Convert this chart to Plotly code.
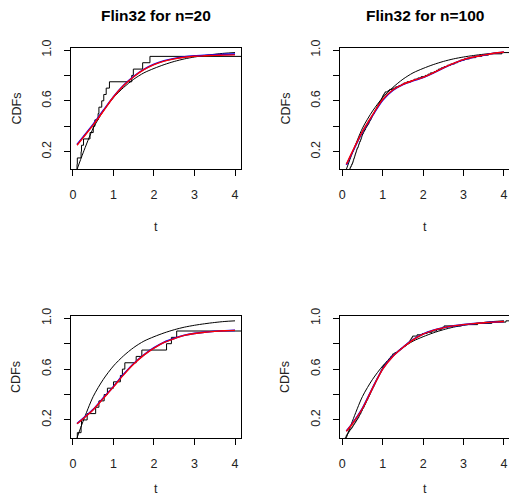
import plotly.graph_objects as go

# ---------------- data ----------------
t_grid = [0.1, 0.25, 0.5, 0.75, 1.0, 1.25, 1.5, 1.75, 2.0, 2.25, 2.5, 2.75, 3.0, 3.25, 3.5, 3.75, 4.0]

# true CDF (thin black smooth curve), same in every panel
true_cdf = [0.06, 0.19, 0.385, 0.52, 0.625, 0.705, 0.77, 0.82, 0.855, 0.885, 0.91, 0.93, 0.945, 0.957, 0.967, 0.975, 0.98]

# panel 1: n=20
ecdf1_times = [0.06, 0.10, 0.107, 0.20, 0.21, 0.26, 0.42, 0.50, 0.54, 0.62, 0.64, 0.71, 0.76, 0.82, 0.90,
               1.45, 1.49, 1.72, 1.90, 4.60]
red1 = [0.25, 0.31, 0.41, 0.52, 0.63, 0.72, 0.79, 0.845, 0.885, 0.912, 0.93, 0.943, 0.951, 0.955, 0.958, 0.96, 0.962]
blue1 = [0.255, 0.315, 0.415, 0.525, 0.633, 0.723, 0.793, 0.848, 0.888, 0.915, 0.933, 0.946, 0.954, 0.959, 0.963, 0.966, 0.968]

# panel 2: n=100
ecdf2_times = [0.03, 0.06, 0.09, 0.12, 0.15, 0.17, 0.19, 0.20, 0.22, 0.23,
               0.25, 0.26, 0.27, 0.28, 0.29, 0.30, 0.31, 0.32, 0.33, 0.34,
               0.35, 0.36, 0.37, 0.39, 0.40, 0.41, 0.42, 0.43, 0.45, 0.46,
               0.47, 0.48, 0.49, 0.50, 0.52, 0.53, 0.55, 0.57, 0.58, 0.60,
               0.62, 0.64, 0.66, 0.67, 0.69, 0.71, 0.72, 0.74, 0.75, 0.77,
               0.79, 0.80, 0.82, 0.84, 0.85, 0.87, 0.89, 0.90, 0.92, 0.94,
               0.96, 0.97, 0.99, 1.00, 1.02, 1.04, 1.06, 1.13, 1.17, 1.25,
               1.32, 1.40, 1.47, 1.52, 1.60, 1.70, 1.78, 1.87, 1.95, 2.05,
               2.12, 2.18, 2.27, 2.33, 2.38, 2.45, 2.52, 2.60, 2.68, 2.78,
               2.85, 2.92, 3.02, 3.15, 3.30, 3.45, 3.62, 3.95, 4.60, 5.30]
red2 = [0.10, 0.20, 0.36, 0.49, 0.61, 0.685, 0.73, 0.76, 0.785, 0.82, 0.86, 0.895, 0.925, 0.945, 0.96, 0.975, 0.985]
blue2 = [0.095, 0.195, 0.355, 0.485, 0.605, 0.682, 0.728, 0.758, 0.783, 0.818, 0.858, 0.893, 0.923, 0.944, 0.959, 0.974, 0.984]

# panel 3: n=20
ecdf3_times = [0.05, 0.107, 0.20, 0.21, 0.35, 0.56, 0.64, 0.77, 0.85, 1.00, 1.17, 1.22, 1.28, 1.56, 1.70,
               2.31, 2.43, 2.56, 4.40, 4.80]
red3 = [0.17, 0.21, 0.28, 0.37, 0.46, 0.555, 0.64, 0.71, 0.765, 0.81, 0.84, 0.865, 0.88, 0.89, 0.897, 0.902, 0.905]
blue3 = [0.172, 0.212, 0.283, 0.374, 0.464, 0.559, 0.644, 0.713, 0.768, 0.812, 0.842, 0.866, 0.881, 0.891, 0.898, 0.902, 0.905]

# panel 4: n=100
ecdf4_times = [0.01, 0.02, 0.03, 0.04, 0.05, 0.07, 0.09, 0.10, 0.12, 0.14,
               0.16, 0.18, 0.20, 0.23, 0.25, 0.27, 0.29, 0.31, 0.33, 0.35,
               0.37, 0.39, 0.41, 0.42, 0.44, 0.46, 0.47, 0.49, 0.50, 0.52,
               0.54, 0.55, 0.57, 0.58, 0.60, 0.61, 0.63, 0.64, 0.66, 0.67,
               0.69, 0.70, 0.72, 0.73, 0.75, 0.76, 0.78, 0.79, 0.81, 0.82,
               0.84, 0.85, 0.87, 0.89, 0.90, 0.92, 0.93, 0.95, 0.96, 0.98,
               0.99, 1.00, 1.02, 1.05, 1.08, 1.10, 1.13, 1.15, 1.18, 1.20,
               1.23, 1.25, 1.30, 1.36, 1.40, 1.44, 1.48, 1.52, 1.56, 1.60,
               1.63, 1.66, 1.68, 1.70, 1.72, 1.74, 1.85, 1.98, 2.10, 2.22,
               2.33, 2.45, 2.48, 2.52, 2.95, 3.35, 3.70, 4.05, 4.60, 5.50]
red4 = [0.11, 0.17, 0.29, 0.45, 0.60, 0.70, 0.77, 0.83, 0.875, 0.905, 0.925, 0.94, 0.95, 0.958, 0.965, 0.97, 0.975]
blue4 = [0.113, 0.173, 0.293, 0.453, 0.602, 0.702, 0.772, 0.832, 0.876, 0.906, 0.926, 0.94, 0.95, 0.958, 0.965, 0.97, 0.975]

titles = ["Flin32 for n=20", "Flin32 for n=100", "", ""]
x_ticks = [0, 1, 2, 3, 4]
y_ticks = [0.2, 0.4, 0.6, 0.8, 1.0]
y_ticktext = ["0.2", "", "0.6", "", "1.0"]

panels = [
    (ecdf1_times, red1, blue1),
    (ecdf2_times, red2, blue2),
    (ecdf3_times, red3, blue3),
    (ecdf4_times, red4, blue4),
]

# ---------------- layout geometry (pixels) ----------------
W, H = 509, 498
boxes = [  # left, right, top, bottom (px)
    (71, 241, 48, 169),
    (340, 509, 48, 169),
    (71, 241, 316, 438),
    (340, 509, 316, 438),
]
xranges = [[-0.049, 4.148], [-0.057, 4.126], [-0.049, 4.148], [-0.057, 4.126]]
yranges = [[0.063, 1.016], [0.063, 1.016], [0.058, 1.018], [0.058, 1.018]]

FONT = "Liberation Sans, Arial, Helvetica, sans-serif"

fig = go.Figure()
layout = dict(width=W, height=H, margin=dict(l=0, r=0, t=0, b=0, autoexpand=False),
              paper_bgcolor="white", plot_bgcolor="white", showlegend=False,
              font=dict(family=FONT, size=12, color="black"))
annotations = []

for i, (times, red, blue) in enumerate(panels):
    n = len(times)
    xa = "x" if i == 0 else f"x{i+1}"
    ya = "y" if i == 0 else f"y{i+1}"
    ex = [0.0] + list(times)
    ey = [0.0] + [(k + 1) / n for k in range(n)]
    fig.add_trace(go.Scatter(x=ex, y=ey, mode="lines", line=dict(color="black", width=1, shape="hv"),
                             xaxis=xa, yaxis=ya, hoverinfo="skip"))
    fig.add_trace(go.Scatter(x=t_grid, y=true_cdf, mode="lines",
                             line=dict(color="black", width=1, shape="spline", smoothing=0.8),
                             xaxis=xa, yaxis=ya, hoverinfo="skip"))
    fig.add_trace(go.Scatter(x=t_grid, y=blue, mode="lines",
                             line=dict(color="blue", width=1.6, shape="spline", smoothing=0.8),
                             xaxis=xa, yaxis=ya, hoverinfo="skip"))
    fig.add_trace(go.Scatter(x=t_grid, y=red, mode="lines",
                             line=dict(color="red", width=1.4, shape="spline", smoothing=0.8),
                             xaxis=xa, yaxis=ya, hoverinfo="skip"))

    L, R, T, B = boxes[i]
    xdom = [L / W, R / W]
    ydom = [1 - B / H, 1 - T / H]
    xkey = "xaxis" if i == 0 else f"xaxis{i+1}"
    ykey = "yaxis" if i == 0 else f"yaxis{i+1}"
    right_cut = (R >= W)
    layout[xkey] = dict(domain=xdom, range=xranges[i], anchor=ya, tickmode="array", tickvals=x_ticks,
                        ticks="outside", ticklen=6, tickwidth=1, tickcolor="black",
                        ticklabelstandoff=8, automargin=False,
                        showline=True, linecolor="black", linewidth=1, mirror=True,
                        showgrid=False, zeroline=False, tickfont=dict(size=12.5, color="#222"))
    layout[ykey] = dict(domain=ydom, range=yranges[i], anchor=xa, tickmode="array", tickvals=y_ticks,
                        ticktext=y_ticktext, tickangle=-90,
                        ticks="outside", ticklen=6, tickwidth=1, tickcolor="black",
                        ticklabelstandoff=8, automargin=False,
                        showline=True, linecolor="black", linewidth=1, mirror=(not right_cut),
                        showgrid=False, zeroline=False, tickfont=dict(size=12.5, color="#222"))

    cx = (L + 510) / 2 if right_cut else (L + R) / 2
    cy = (T + B) / 2
    if titles[i]:
        annotations.append(dict(text=f"<b>{titles[i]}</b>", x=cx / W, y=1 - 15 / H, xref="paper", yref="paper",
                                showarrow=False, xanchor="center", yanchor="middle",
                                font=dict(size=15.5, color="black", family=FONT)))
    # y label "CDFs"
    ylab_x = L - 55
    annotations.append(dict(text="CDFs", x=ylab_x / W, y=1 - cy / H, xref="paper", yref="paper",
                            showarrow=False, textangle=-90, xanchor="center", yanchor="middle",
                            font=dict(size=12.5, color="#222", family=FONT)))
    # x label "t"
    ty = min(B + 58, 489)
    annotations.append(dict(text="t", x=cx / W, y=1 - ty / H, xref="paper", yref="paper",
                            showarrow=False, xanchor="center", yanchor="middle",
                            font=dict(size=12.5, color="#222", family=FONT)))

layout["annotations"] = annotations
fig.update_layout(**layout)
fig.write_html("out.html",
               config={"displayModeBar": False, "staticPlot": True},
               post_script="document.body.style.margin='0px';document.body.style.overflow='hidden';")
